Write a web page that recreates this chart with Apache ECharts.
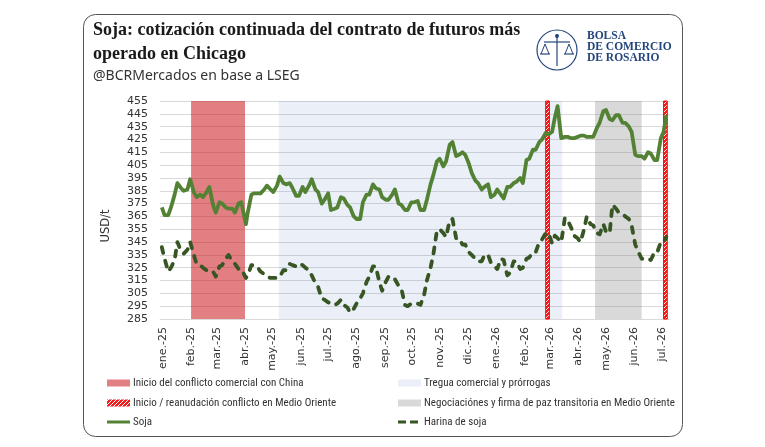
<!DOCTYPE html>
<html>
<head>
<meta charset="utf-8">
<script src="https://cdn.jsdelivr.net/npm/echarts@6/dist/echarts.min.js"></script>
<style>
  html, body { margin: 0; padding: 0; background: #fff; }
  #main { width: 765px; height: 447px; }
</style>
</head>
<body>
<div id="main"></div>
<script>
// fechas de las observaciones (martes y viernes)
const dates = [
  '2024-12-31', '2025-01-03', '2025-01-07', '2025-01-10', '2025-01-14', '2025-01-17', '2025-01-21', '2025-01-24', '2025-01-28', '2025-01-31',
  '2025-02-04', '2025-02-07', '2025-02-11', '2025-02-14', '2025-02-18', '2025-02-21', '2025-02-25', '2025-02-28',
  '2025-03-04', '2025-03-07', '2025-03-11', '2025-03-14', '2025-03-18', '2025-03-21', '2025-03-25', '2025-03-28',
  '2025-04-02', '2025-04-04', '2025-04-08', '2025-04-11', '2025-04-15', '2025-04-18', '2025-04-22', '2025-04-25', '2025-04-29',
  '2025-05-02', '2025-05-06', '2025-05-09', '2025-05-13', '2025-05-16', '2025-05-20', '2025-05-23', '2025-05-27', '2025-05-30',
  '2025-06-03', '2025-06-06', '2025-06-10', '2025-06-13', '2025-06-17', '2025-06-20', '2025-06-24', '2025-06-27',
  '2025-07-01', '2025-07-04', '2025-07-08', '2025-07-11', '2025-07-15', '2025-07-18', '2025-07-22', '2025-07-25', '2025-07-29',
  '2025-08-01', '2025-08-05', '2025-08-08', '2025-08-12', '2025-08-15', '2025-08-19', '2025-08-22', '2025-08-26', '2025-08-29',
  '2025-09-02', '2025-09-05', '2025-09-09', '2025-09-12', '2025-09-16', '2025-09-19', '2025-09-23', '2025-09-26', '2025-09-30',
  '2025-10-03', '2025-10-07', '2025-10-10', '2025-10-14', '2025-10-17', '2025-10-21', '2025-10-24', '2025-10-28', '2025-10-31',
  '2025-11-04', '2025-11-07', '2025-11-11', '2025-11-14', '2025-11-18', '2025-11-21', '2025-11-25', '2025-11-28',
  '2025-12-02', '2025-12-05', '2025-12-09', '2025-12-12', '2025-12-16', '2025-12-19', '2025-12-23', '2025-12-26', '2025-12-30',
  '2026-01-02', '2026-01-06', '2026-01-09', '2026-01-13', '2026-01-16', '2026-01-20', '2026-01-23', '2026-01-27', '2026-01-30',
  '2026-02-03', '2026-02-06', '2026-02-10', '2026-02-13', '2026-02-17', '2026-02-20', '2026-02-24', '2026-02-27',
  '2026-03-03', '2026-03-06', '2026-03-09', '2026-03-13', '2026-03-17', '2026-03-20', '2026-03-24', '2026-03-27', '2026-03-31',
  '2026-04-03', '2026-04-07', '2026-04-10', '2026-04-14', '2026-04-17', '2026-04-21', '2026-04-24', '2026-04-28',
  '2026-05-01', '2026-05-05', '2026-05-08', '2026-05-12', '2026-05-15', '2026-05-19', '2026-05-22', '2026-05-26', '2026-05-29',
  '2026-06-02', '2026-06-05', '2026-06-09', '2026-06-12', '2026-06-16', '2026-06-19', '2026-06-23', '2026-06-26', '2026-06-30',
  '2026-07-03', '2026-07-06'
];

// USD/t
const soja = [
  372, 366, 366, 372, 382, 391, 387, 385, 386, 394,
  384, 380, 382, 380, 384, 388, 374, 368,
  376, 375, 372, 371, 371, 368, 375, 376,
  359, 368, 382, 383, 383, 383, 386, 389, 386,
  384, 389, 396, 391, 390, 391, 387, 381, 381,
  388, 384, 389, 394, 386, 384, 375, 378,
  383, 370, 371, 372, 380, 379, 374, 372, 365,
  363, 363, 376, 382, 382, 390, 387, 386, 380,
  378, 378, 382, 386, 375, 374, 370, 370, 376,
  376, 377, 370, 370, 378, 390, 397, 408, 410,
  404, 408, 421, 423, 412, 413, 415, 413,
  406, 399, 393, 391, 386, 388, 390, 380, 382,
  386, 382, 379, 388, 388, 391, 392, 395, 391,
  409, 410, 417, 417, 423, 425, 430, 429,
  431, 442, 451, 426, 427, 427, 426, 426, 427,
  428, 428, 427, 427, 427, 434, 438, 447,
  448, 441, 440, 444, 444, 438, 438, 435, 431,
  413, 412, 412, 410, 415, 414, 409, 409, 426,
  431, 444
];

const harina = [
  341, 332, 322, 325, 331, 345, 338, 336, 339, 345,
  335, 328, 327, 325, 323, 323, 322, 318,
  326, 327, 332, 335, 330, 328, 324, 324,
  317, 319, 327, 327, 325, 322, 320, 318, 317,
  317, 317, 318, 323, 323, 328, 327, 326, 328,
  327, 325, 323, 319, 313, 310, 301, 300,
  298, 297, 296, 297, 300, 296, 294, 290, 293,
  297, 301, 305, 314, 318, 326, 326, 314, 307,
  314, 318, 318, 316, 311, 309, 296, 295, 297,
  297, 297, 296, 304, 315, 325, 335, 354, 355,
  352, 349, 362, 363, 348, 348, 343, 343,
  337, 335, 332, 330, 330, 335, 335, 329, 326,
  324, 332, 331, 319, 321, 330, 330, 324, 325,
  332, 333, 337, 337, 345, 347, 352, 352,
  344, 350, 348, 345, 364, 362, 356, 350, 348,
  345, 355, 365, 359, 358, 352, 351, 359,
  353, 352, 374, 371, 368, 367, 365, 363, 358,
  343, 338, 332, 332, 332, 331, 337, 337, 345,
  345, 349
];

const monthTicks = [
  '2025-01-01', '2025-02-01', '2025-03-01', '2025-04-01', '2025-05-01', '2025-06-01',
  '2025-07-01', '2025-08-01', '2025-09-01', '2025-10-01', '2025-11-01', '2025-12-01',
  '2026-01-01', '2026-02-01', '2026-03-01', '2026-04-01', '2026-05-01', '2026-06-01',
  '2026-07-01'
];
const monthLabels = [
  'ene.-25', 'feb.-25', 'mar.-25', 'abr.-25', 'may.-25', 'jun.-25',
  'jul.-25', 'ago.-25', 'sep.-25', 'oct.-25', 'nov.-25', 'dic.-25',
  'ene.-26', 'feb.-26', 'mar.-26', 'abr.-26', 'may.-26', 'jun.-26',
  'jul.-26'
];

// periodos sombreados [inicio, fin]
const chinaConflict = ['2025-02-01', '2025-04-01'];
const tradeTruce = ['2025-05-08', '2026-03-14'];
const peaceTalks = ['2026-04-19', '2026-06-09'];
const middleEast = [['2026-02-24', '2026-02-28'], ['2026-07-03', '2026-07-07']];

function toTime(s) {
  const p = s.split('-').map(Number);
  return new Date(p[0], p[1] - 1, p[2]).getTime();
}
const tickTimes = monthTicks.map(toTime);

function hatch() {
  const c = document.createElement('canvas');
  c.width = 4; c.height = 4;
  const g = c.getContext('2d');
  g.fillStyle = '#f21c1c';
  g.fillRect(0, 0, 4, 4);
  g.strokeStyle = '#ffffff';
  g.lineWidth = 1;
  g.beginPath();
  g.moveTo(0, 4); g.lineTo(4, 0);
  g.stroke();
  return c;
}
const hatchFill = { image: hatch(), repeat: 'repeat' };

const RED = 'rgba(200,10,15,0.52)';
const BLUE = 'rgba(68,114,196,0.115)';
const GREY = 'rgba(128,128,128,0.3)';
const GREEN = '#548235';
const DKGREEN = '#375623';
const NAVY = '#24457c';
const LEG_FONT = "'Liberation Sans Narrow', 'Roboto Condensed', 'Liberation Sans', sans-serif";

const areas = [
  [{ xAxis: toTime(chinaConflict[0]), itemStyle: { color: RED } }, { xAxis: toTime(chinaConflict[1]) }],
  [{ xAxis: toTime(tradeTruce[0]), itemStyle: { color: BLUE } }, { xAxis: toTime(tradeTruce[1]) }],
  [{ xAxis: toTime(peaceTalks[0]), itemStyle: { color: GREY } }, { xAxis: toTime(peaceTalks[1]) }]
].concat(middleEast.map(r => [
  { xAxis: toTime(r[0]), itemStyle: { color: hatchFill, borderColor: '#ff0000', borderWidth: 1 } },
  { xAxis: toTime(r[1]) }
]));

function legendRow(x, y, icon, label) {
  const els = [];
  if (icon.type === 'rect') {
    els.push({ type: 'rect', shape: { x: x, y: y - 3.5, width: 23, height: 7 }, style: { fill: icon.fill } });
  } else {
    els.push({
      type: 'line', shape: { x1: x, y1: y, x2: x + 23, y2: y },
      style: { stroke: icon.color, lineWidth: 3, lineDash: icon.dash || null }
    });
  }
  els.push({
    type: 'text', x: x + 26, y: y,
    style: { text: label, fill: '#333', font: "11px " + LEG_FONT, verticalAlign: 'middle' }
  });
  return els;
}

let myChart = echarts.init(document.getElementById('main'));

let options = {
  backgroundColor: '#fff',
  animation: false,
  title: {
    text: 'Soja: cotización continuada del contrato de futuros más\noperado en Chicago',
    subtext: '@BCRMercados en base a LSEG',
    left: 93, top: 18, padding: 0, itemGap: 2,
    textStyle: {
      fontFamily: "'Liberation Serif', serif", fontWeight: 'bold',
      fontSize: 18, lineHeight: 24, color: '#1a1a1a'
    },
    subtextStyle: { fontFamily: "'Noto Sans', sans-serif", fontSize: 14, lineHeight: 16, color: '#333' }
  },
  grid: { left: 160, right: 95, top: 101, bottom: 128 },
  xAxis: {
    type: 'value',
    min: toTime('2024-12-29'),
    max: toTime('2026-07-10'),
    axisLine: { show: true, lineStyle: { color: '#d9d9d9' } },
    axisTick: { show: false },
    splitLine: { show: false },
    axisLabel: {
      customValues: tickTimes,
      rotate: 90,
      margin: 8,
      fontFamily: "'DejaVu Sans', sans-serif",
      fontSize: 11,
      color: '#333',
      formatter: function (v) {
        for (let i = 0; i < tickTimes.length; i++) {
          if (Math.abs(tickTimes[i] - v) < 43200000) return monthLabels[i];
        }
        return '';
      }
    }
  },
  yAxis: {
    type: 'value',
    min: 285, max: 455, interval: 10,
    axisLine: { show: false },
    axisTick: { show: false },
    axisLabel: { margin: 12, fontFamily: "'DejaVu Sans', sans-serif", fontSize: 11, color: '#333' },
    splitLine: { lineStyle: { color: '#d9d9d9', width: 1 } }
  },
  series: [
    {
      name: 'Soja',
      type: 'line',
      z: 3,
      showSymbol: false,
      data: dates.map((d, i) => [toTime(d), soja[i]]),
      lineStyle: { color: GREEN, width: 3.8, join: 'round' },
      itemStyle: { color: GREEN },
      markArea: { silent: true, data: areas }
    },
    {
      name: 'Harina de soja',
      type: 'line',
      z: 3,
      showSymbol: false,
      data: dates.map((d, i) => [toTime(d), harina[i]]),
      lineStyle: { color: DKGREEN, width: 3.8, type: [6, 8], cap: 'round', join: 'round' },
      itemStyle: { color: DKGREEN }
    }
  ],
  graphic: [
    {
      type: 'rect', silent: true,
      shape: { x: 83.5, y: 14.5, width: 599, height: 422, r: 12 },
      style: { fill: 'none', stroke: '#555', lineWidth: 1 }
    },
    // logo BCR
    { type: 'circle', shape: { cx: 557, cy: 50, r: 20 }, style: { fill: 'none', stroke: NAVY, lineWidth: 1.2 } },
    { type: 'line', shape: { x1: 557, y1: 34, x2: 557, y2: 66 }, style: { stroke: NAVY, lineWidth: 1.2 } },
    { type: 'line', shape: { x1: 544, y1: 42, x2: 570, y2: 42 }, style: { stroke: NAVY, lineWidth: 1.2 } },
    { type: 'polyline', shape: { points: [[541, 54], [545, 44], [549, 54]] }, style: { fill: 'none', stroke: NAVY, lineWidth: 1 } },
    { type: 'polyline', shape: { points: [[565, 54], [569, 44], [573, 54]] }, style: { fill: 'none', stroke: NAVY, lineWidth: 1 } },
    { type: 'line', shape: { x1: 540, y1: 54, x2: 550, y2: 54 }, style: { stroke: NAVY, lineWidth: 1.2 } },
    { type: 'line', shape: { x1: 564, y1: 54, x2: 574, y2: 54 }, style: { stroke: NAVY, lineWidth: 1.2 } },
    { type: 'circle', shape: { cx: 557, cy: 36, r: 2 }, style: { fill: NAVY } },
    {
      type: 'text', x: 587, y: 31,
      style: { text: 'BOLSA\nDE COMERCIO\nDE ROSARIO', fill: NAVY, font: "bold 11.5px 'Liberation Serif', serif", lineHeight: 11 }
    },
    // eje Y
    {
      type: 'text', x: 106, y: 226, rotation: Math.PI / 2,
      style: { text: 'USD/t', fill: '#333', font: "11.5px 'DejaVu Sans', sans-serif", align: 'center', verticalAlign: 'middle' }
    }
  ]
    .concat(legendRow(107, 383, { type: 'rect', fill: RED }, 'Inicio del conflicto comercial con China'))
    .concat(legendRow(107, 403, { type: 'rect', fill: hatchFill }, 'Inicio / reanudación conflicto en Medio Oriente'))
    .concat(legendRow(107, 422, { type: 'line', color: GREEN }, 'Soja'))
    .concat(legendRow(398, 383, { type: 'rect', fill: BLUE }, 'Tregua comercial y prórrogas'))
    .concat(legendRow(398, 403, { type: 'rect', fill: GREY }, 'Negociaciónes y firma de paz transitoria en Medio Oriente'))
    .concat(legendRow(398, 422, { type: 'line', color: DKGREEN, dash: [8, 4] }, 'Harina de soja'))
};

myChart.setOption(options);
</script>
</body>
</html>
